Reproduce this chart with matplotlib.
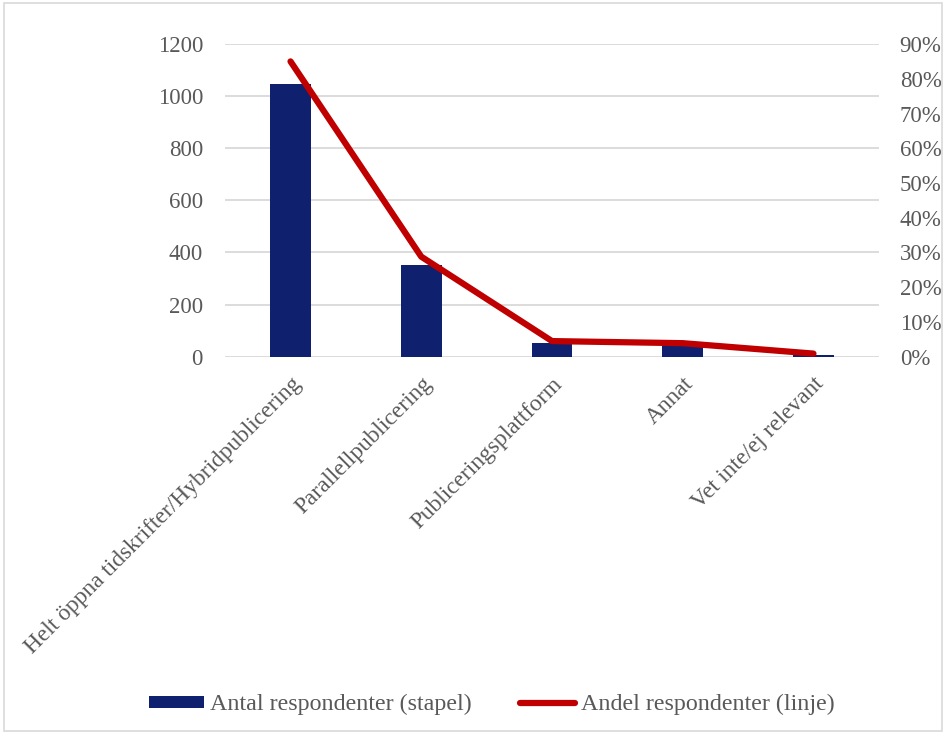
import numpy as np
import matplotlib.pyplot as plt
from matplotlib.patches import Rectangle
from matplotlib.ticker import PercentFormatter

plt.rcParams['font.family'] = ['Liberation Serif', 'DejaVu Serif']

categories = ['Helt öppna tidskrifter/Hybridpublicering', 'Parallellpublicering',
              'Publiceringsplattform', 'Annat', 'Vet inte/ej relevant']
antal = [1045, 352, 52, 51, 7]
andel = [85.0, 28.8, 4.5, 3.9, 0.9]

grey = '#595959'
fig = plt.figure(figsize=(9.46, 7.34), dpi=100)
fig.patches.append(Rectangle((0.004, 0.004), 0.992, 0.992, transform=fig.transFigure,
                             fill=False, edgecolor='#d9d9d9', lw=1.2))

ax = fig.add_axes([0.238, 0.514, 0.691, 0.426])
x = np.arange(len(categories))
bars = ax.bar(x, antal, width=0.31, color='#0e206e', zorder=2,
              label='Antal respondenter (stapel)')
ax.set_ylim(0, 1200)
ax.set_yticks(range(0, 1201, 200))
ax.set_xlim(-0.5, 4.5)
ax.grid(axis='y', color='#d9d9d9', lw=1.3, zorder=0)
ax.set_axisbelow(True)
for s in ax.spines.values():
    s.set_visible(False)
ax.tick_params(axis='y', length=0, labelsize=16.5, labelcolor=grey, pad=16)
ax.set_xticks(x)
ax.set_xticklabels(categories, rotation=45, ha='right', rotation_mode='anchor')
ax.tick_params(axis='x', length=0, labelsize=16.8, labelcolor=grey, pad=12)

ax2 = ax.twinx()
line, = ax2.plot(x, andel, color='#c00000', lw=4.5, solid_capstyle='round',
                 label='Andel respondenter (linje)', zorder=3)
ax2.set_ylim(0, 90)
ax2.set_yticks(range(0, 91, 10))
ax2.yaxis.set_major_formatter(PercentFormatter(decimals=0))
for s in ax2.spines.values():
    s.set_visible(False)
ax2.tick_params(length=0, labelsize=16.5, labelcolor=grey, pad=15)

fig.legend([bars, line], ['Antal respondenter (stapel)', 'Andel respondenter (linje)'],
           loc='center', bbox_to_anchor=(0.52, 0.04), ncol=2, frameon=False,
           fontsize=17.3, handlelength=2.3, handleheight=0.4, handletextpad=0.25,
           columnspacing=2.0, labelcolor=grey)

fig.savefig('out.png', dpi=100)
